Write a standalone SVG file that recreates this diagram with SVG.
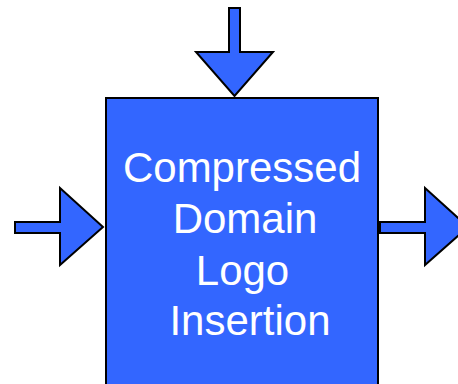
<svg xmlns="http://www.w3.org/2000/svg" width="458" height="384" viewBox="0 0 458 384">
  <style>
    .fill { fill: #3366FF; stroke: #000000; stroke-width: 2; stroke-linejoin: miter; }
    .label { font-family: "Liberation Sans", Arial, sans-serif; font-size: 42px; fill: #FFFFFF; text-anchor: middle; }
  </style>
  <rect width="458" height="384" fill="#FFFFFF"/>

  <!-- block arrows: inputs from top and left, output to the right -->
  <g id="connectors">
    <polygon id="arrow-top" class="fill" points="229,8 240,8 240,52 273,52 234.5,96 196,52 229,52"/>
    <polygon id="arrow-left" class="fill" points="15,222 60,222 60,188 103,227 60,265 60,233 15,233"/>
    <polygon id="arrow-right" class="fill" points="380,222 425,222 425,188 468,227 425,265 425,233 380,233"/>
  </g>

  <!-- processing block -->
  <g id="logo-insertion">
    <rect class="fill" x="106" y="98" width="272" height="300"/>
    <text class="label" x="242" y="182">Compressed</text>
    <text class="label" x="245" y="233">Domain</text>
    <text class="label" x="242.5" y="285">Logo</text>
    <text class="label" x="250" y="335">Insertion</text>
  </g>
</svg>
